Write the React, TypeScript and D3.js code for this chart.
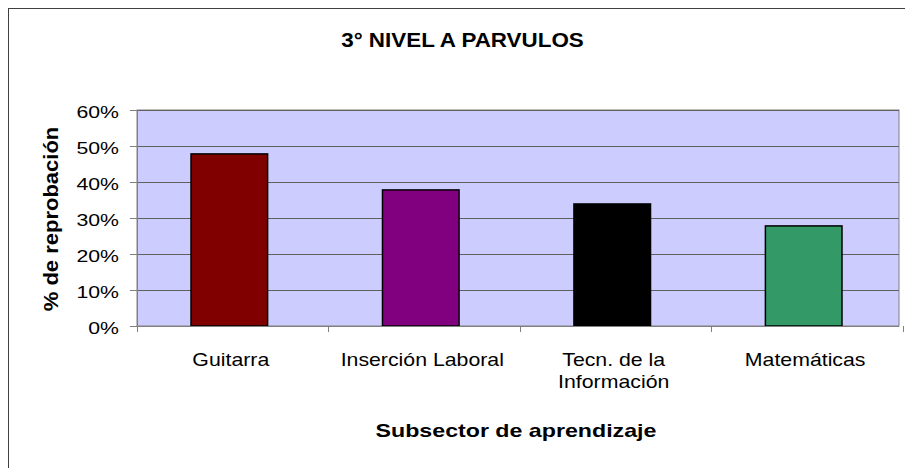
import React, { useEffect, useRef } from 'react';
import * as d3 from 'd3';

// data
const categories = ['Guitarra', 'Inserción Laboral', 'Tecn. de la Información', 'Matemáticas'];
const labelLines = [['Guitarra'], ['Inserción Laboral'], ['Tecn. de la', 'Información'], ['Matemáticas']];
const values = [0.478, 0.378, 0.339, 0.278];
const barColors = ['#800000', '#800080', '#000000', '#339966'];
const yTicks = [0, 0.1, 0.2, 0.3, 0.4, 0.5, 0.6];

const title = '3° NIVEL A PARVULOS';
const xTitle = 'Subsector de aprendizaje';
const yTitle = '% de reprobación';

const FONT = '"Liberation Sans", Arial, Helvetica, sans-serif';

const App = () => {
  const svgRef = useRef<SVGSVGElement>(null);

  useEffect(() => {
    const width = 905;
    const height = 468;
    const plot = { left: 137, right: 899, top: 110, bottom: 326 };

    const svg = d3.select(svgRef.current);
    svg.selectAll('*').remove();
    svg.attr('width', width).attr('height', height);

    // widen text a bit, the original renderer draws wider glyphs
    const stretch = (sel: any, factor: number) => {
      sel.each(function (this: SVGTextElement) {
        const len = this.getComputedTextLength();
        d3.select(this).attr('textLength', len * factor).attr('lengthAdjust', 'spacingAndGlyphs');
      });
    };

    // chart area border (only top and left visible)
    svg.append('rect')
      .attr('x', 8.5).attr('y', 8.5)
      .attr('width', 940).attr('height', 500)
      .attr('fill', '#ffffff')
      .attr('stroke', '#404040')
      .attr('stroke-width', 1);

    const x = d3.scaleBand<string>()
      .domain(categories)
      .range([plot.left, plot.right])
      .paddingInner(0.6)
      .paddingOuter(0.29);

    const y = d3.scaleLinear()
      .domain([0, 0.6])
      .range([plot.bottom, plot.top]);

    // plot area
    svg.append('rect')
      .attr('x', plot.left).attr('y', plot.top)
      .attr('width', plot.right - plot.left)
      .attr('height', plot.bottom - plot.top)
      .attr('fill', '#ccccff')
      .attr('stroke', '#808080')
      .attr('stroke-width', 1);

    // gridlines
    svg.append('g')
      .selectAll('line')
      .data(yTicks.slice(1))
      .enter()
      .append('line')
      .attr('x1', plot.left).attr('x2', plot.right)
      .attr('y1', d => Math.round(y(d)) + 0.5)
      .attr('y2', d => Math.round(y(d)) + 0.5)
      .attr('stroke', '#606060')
      .attr('stroke-width', 1);

    // bars
    svg.append('g')
      .selectAll('rect')
      .data(values)
      .enter()
      .append('rect')
      .attr('x', (d, i) => x(categories[i])! - 1.5)
      .attr('y', d => y(d))
      .attr('width', x.bandwidth())
      .attr('height', d => plot.bottom - y(d))
      .attr('fill', (d, i) => barColors[i])
      .attr('stroke', '#000000')
      .attr('stroke-width', 1.5);

    // axes lines
    svg.append('line')
      .attr('x1', plot.left + 0.5).attr('x2', plot.left + 0.5)
      .attr('y1', plot.top).attr('y2', plot.bottom)
      .attr('stroke', '#808080');
    svg.append('line')
      .attr('x1', plot.left).attr('x2', plot.right)
      .attr('y1', plot.bottom + 0.5).attr('y2', plot.bottom + 0.5)
      .attr('stroke', '#808080');

    // y ticks + labels
    const yAxis = svg.append('g');
    yAxis.selectAll('line')
      .data(yTicks)
      .enter()
      .append('line')
      .attr('x1', plot.left - 7).attr('x2', plot.left)
      .attr('y1', d => Math.round(y(d)) + 0.5)
      .attr('y2', d => Math.round(y(d)) + 0.5)
      .attr('stroke', '#808080');
    const yLabels = yAxis.selectAll('text')
      .data(yTicks)
      .enter()
      .append('text')
      .attr('x', 119)
      .attr('y', d => y(d) + 7.5)
      .attr('text-anchor', 'end')
      .attr('font-family', FONT)
      .attr('font-size', '17px')
      .attr('fill', '#000')
      .text(d => d3.format('.0%')(d));
    stretch(yLabels, 1.25);

    // x ticks at band boundaries
    const step = x.step();
    const boundaries = d3.range(categories.length + 1).map(i => plot.left + i * step);
    svg.append('g')
      .selectAll('line')
      .data(boundaries)
      .enter()
      .append('line')
      .attr('x1', d => Math.round(d) + 0.5).attr('x2', d => Math.round(d) + 0.5)
      .attr('y1', plot.bottom).attr('y2', plot.bottom + 6)
      .attr('stroke', '#808080');

    // x labels
    labelLines.forEach((lines, i) => {
      const cx = x(categories[i])! + x.bandwidth() / 2;
      lines.forEach((line, j) => {
        const t = svg.append('text')
          .attr('x', cx)
          .attr('y', 366 + j * 22)
          .attr('text-anchor', 'middle')
          .attr('font-family', FONT)
          .attr('font-size', '19px')
          .attr('fill', '#000')
          .text(line);
        stretch(t, 1.12);
      });
    });

    // titles
    const t1 = svg.append('text')
      .attr('x', 462.5).attr('y', 46.7)
      .attr('text-anchor', 'middle')
      .attr('font-family', FONT)
      .attr('font-weight', 'bold')
      .attr('font-size', '20px')
      .text(title);
    stretch(t1, 1.12);

    const t2 = svg.append('text')
      .attr('x', (plot.left + plot.right) / 2 - 2).attr('y', 436.7)
      .attr('text-anchor', 'middle')
      .attr('font-family', FONT)
      .attr('font-weight', 'bold')
      .attr('font-size', '19px')
      .text(xTitle);
    stretch(t2, 1.22);

    const t3 = svg.append('text')
      .attr('transform', `translate(58.3, ${(plot.top + plot.bottom) / 2 + 1}) rotate(-90)`)
      .attr('text-anchor', 'middle')
      .attr('font-family', FONT)
      .attr('font-weight', 'bold')
      .attr('font-size', '20px')
      .text(yTitle);
    stretch(t3, 1.1);
  }, []);

  return (
    <svg
      ref={svgRef}
      width={905}
      height={468}
      style={{ position: 'absolute', left: 0, top: 0, display: 'block', background: '#ffffff' }}
    />
  );
};

export default App;
